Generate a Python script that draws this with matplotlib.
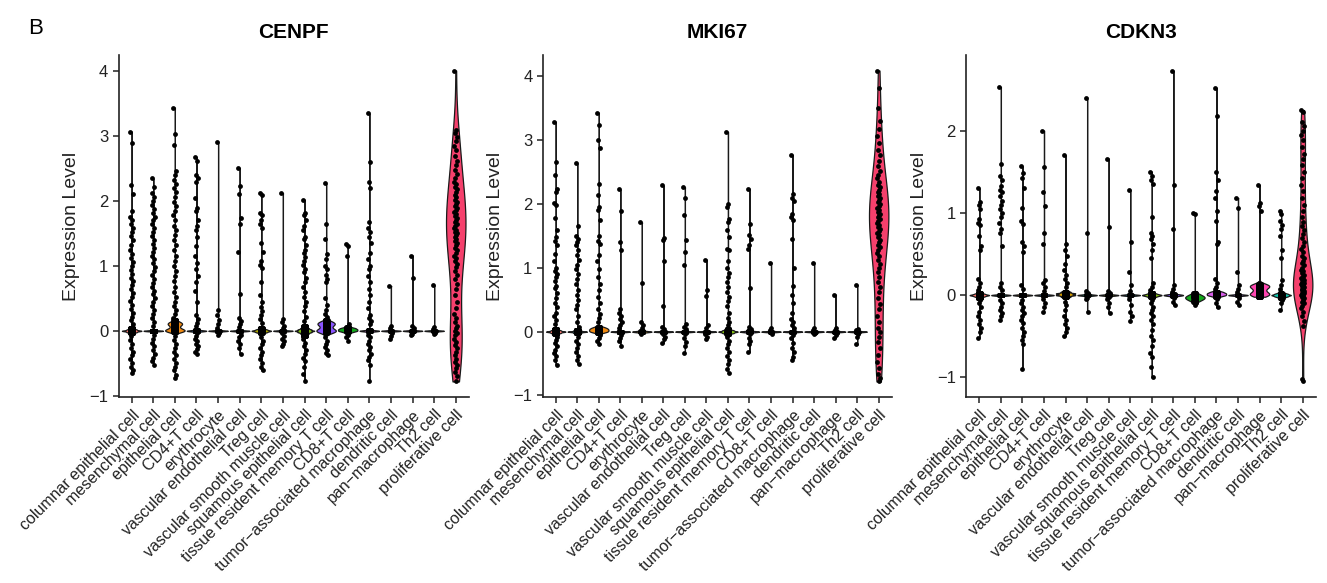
import numpy as np
import matplotlib
matplotlib.use("Agg")
import matplotlib.pyplot as plt
from matplotlib.ticker import MultipleLocator

plt.rcParams['font.family'] = ['Liberation Sans', 'DejaVu Sans']

categories = ["columnar epithelial cell", "mesenchymal cell", "epithelial cell", "CD4+T cell",
              "erythrocyte", "vascular endothelial cell", "Treg cell", "vascular smooth muscle cell",
              "squamous epithelial cell", "tissue resident memory T cell", "CD8+T cell",
              "tumor\u2212associated macrophage", "dendritic cell", "pan\u2212macrophage", "Th2 cell",
              "proliferative cell"]
genes = ["CENPF", "MKI67", "CDKN3"]
colors = ["#F8766D", "#00A5A8", "#F08A12", "#1E78E0", "#D09A00", "#00B88A", "#A9A400", "#00B0E0",
          "#80BE10", "#8A55FF", "#12A81A", "#D65CE8", "#B070FF", "#FF45B0", "#10C8B0", "#F5406C"]

# ---- CENPF: individually visible cells, plus bulk of cells near zero (value, count)
cenpf_points = [
    [3.07, 2.90, 2.24, 2.11, 1.84, 1.76, 1.70, 1.64, 1.58, 1.52, 1.46, 1.40, 1.32, 1.24, 1.18, 1.12, 1.06, 1.00,
     0.94, 0.88, 0.82, 0.76, 0.70, 0.64, 0.58, 0.52, 0.46, 0.40, 0.34, 0.28, 0.22, 0.16, 0.10, -0.08, -0.14,
     -0.20, -0.26, -0.32, -0.38, -0.44, -0.50, -0.56, -0.61, -0.65],
    [2.35, 2.22, 2.12, 2.06, 2.00, 1.94, 1.88, 1.82, 1.76, 1.70, 1.64, 1.58, 1.52, 1.46, 1.40, 1.34, 1.28, 1.22,
     1.16, 1.10, 1.04, 0.98, 0.92, 0.86, 0.80, 0.74, 0.68, 0.62, 0.56, 0.50, 0.44, 0.38, 0.32, 0.26, 0.20, 0.14,
     0.08, -0.06, -0.12, -0.18, -0.24, -0.30, -0.36, -0.42, -0.47, -0.52],
    [3.44, 3.03, 2.86, 2.46, 2.40, 2.33, 2.26, 2.20, 2.14, 2.06, 1.98, 1.92, 1.85, 1.78, 1.70, 1.62, 1.55, 1.48,
     1.40, 1.32, 1.24, 1.16, 1.08, 1.00, 0.92, 0.84, 0.76, 0.68, 0.60, 0.52, 0.45, 0.38, 0.32, 0.26, 0.20,
     -0.08, -0.14, -0.20, -0.26, -0.32, -0.38, -0.44, -0.50, -0.56, -0.61, -0.68, -0.73],
    [2.68, 2.62, 2.40, 2.35, 2.30, 2.05, 1.90, 1.85, 1.70, 1.62, 1.55, 1.45, 1.30, 1.15, 1.05, 0.95, 0.85, 0.75,
     0.62, 0.45, 0.25, 0.18, 0.12, 0.08, -0.04, -0.08, -0.12, -0.16, -0.20, -0.24, -0.28, -0.32, -0.36],
    [2.91, 0.32, 0.24, 0.16, 0.10, 0.05, -0.03, -0.06],
    [2.51, 2.23, 2.11, 1.74, 1.65, 1.22, 0.56, 0.20, 0.15, 0.10, 0.06, -0.06, -0.10, -0.15, -0.20, -0.26, -0.36],
    [2.13, 2.09, 1.82, 1.78, 1.70, 1.65, 1.58, 1.35, 1.22, 1.08, 1.02, 0.97, 0.75, 0.55, 0.45, 0.36, 0.30, 0.24,
     0.18, 0.12, -0.10, -0.15, -0.20, -0.26, -0.32, -0.38, -0.44, -0.50, -0.55, -0.61],
    [2.12, 0.18, 0.13, 0.08, 0.04, -0.04, -0.08, -0.12, -0.16, -0.20, -0.23],
    [2.02, 1.82, 1.78, 1.70, 1.62, 1.55, 1.45, 1.42, 1.32, 1.25, 1.20, 1.14, 1.08, 1.02, 0.95, 0.90, 0.82, 0.75,
     0.68, 0.60, 0.52, 0.45, 0.38, 0.30, 0.22, 0.15, -0.12, -0.18, -0.24, -0.30, -0.36, -0.42, -0.47, -0.55,
     -0.66, -0.78],
    [2.27, 1.65, 1.42, 1.18, 1.10, 1.00, 0.95, 0.86, 0.80, 0.75, 0.50, 0.40, 0.32, 0.26, 0.22, -0.10, -0.15,
     -0.20, -0.25, -0.30, -0.34, -0.38],
    [1.34, 1.30, 1.15, 0.10, -0.06, -0.10, -0.15],
    [3.35, 2.60, 2.30, 2.20, 1.68, 1.58, 1.52, 1.45, 1.35, 1.20, 1.10, 1.00, 0.95, 0.85, 0.75, 0.65, 0.55, 0.45,
     0.35, 0.25, 0.20, 0.15, 0.10, -0.06, -0.10, -0.15, -0.20, -0.25, -0.30, -0.35, -0.40, -0.45, -0.52, -0.78],
    [0.69, 0.08, 0.04, -0.04, -0.08, -0.12],
    [1.16, 0.81, 0.08, 0.05, -0.05, -0.07],
    [0.70, 0.06, 0.03, -0.03, -0.05],
    [4.01, 3.10, 3.05, 2.98, 2.92, 2.85, 2.78, 2.70, 2.62, 2.55, 2.48, 2.42, 2.36, 2.30, 2.26, 2.22, 2.18, 2.14,
     2.10, 2.06, 2.02, 1.98, 1.95, 1.92, 1.89, 1.86, 1.83, 1.80, 1.77, 1.74, 1.71, 1.68, 1.65, 1.62, 1.59, 1.56,
     1.53, 1.50, 1.47, 1.44, 1.41, 1.38, 1.35, 1.32, 1.28, 1.24, 1.20, 1.16, 1.12, 1.08, 1.03, 0.98, 0.92, 0.86,
     0.80, 0.72, 0.64, 0.55, 0.45, 0.35, 0.26, 0.19, 0.14, 0.08, 0.04, 0.00, -0.04, -0.07, -0.12, -0.17, -0.22,
     -0.27, -0.32, -0.37, -0.43, -0.48, -0.53, -0.58, -0.63, -0.70, -0.78],
]
cenpf_bulk = [
    [(-0.04, 30), (-0.02, 80), (0.0, 160), (0.02, 80), (0.04, 30)],
    [(0.0, 400)],
    [(-0.02, 40), (0.0, 120), (0.02, 70), (0.04, 35), (0.06, 25), (0.08, 40), (0.10, 65), (0.12, 65), (0.14, 35), (0.16, 15)],
    [(-0.01, 40), (0.0, 120), (0.01, 40)],
    [(0.0, 40)],
    [(0.0, 80)],
    [(-0.04, 20), (-0.02, 50), (0.0, 90), (0.02, 50), (0.04, 20)],
    [(0.0, 60)],
    [(-0.08, 15), (-0.06, 25), (-0.04, 45), (-0.02, 70), (0.0, 100), (0.02, 70), (0.04, 45), (0.06, 25), (0.08, 15)],
    [(-0.04, 20), (-0.02, 40), (0.0, 60), (0.02, 40), (0.04, 25), (0.06, 20), (0.08, 30), (0.10, 45), (0.12, 45), (0.14, 30), (0.16, 15)],
    [(-0.02, 15), (0.0, 30), (0.02, 30), (0.04, 25), (0.06, 10)],
    [(-0.01, 20), (0.0, 60), (0.01, 20)],
    [(0.0, 25)],
    [(0.0, 30)],
    [(0.0, 20)],
    [],
]

# ---- MKI67
mki67_points = [
    [3.29, 2.66, 2.45, 2.23, 2.18, 2.02, 1.98, 1.78, 1.60, 1.48, 1.42, 1.35, 1.22, 1.10, 1.00, 0.95, 0.90, 0.85,
     0.80, 0.72, 0.68, 0.60, 0.52, 0.45, 0.38, 0.30, 0.24, 0.18, 0.12, -0.08, -0.13, -0.18, -0.23, -0.28, -0.33,
     -0.38, -0.45, -0.52],
    [2.64, 1.65, 1.50, 1.45, 1.40, 1.35, 1.28, 1.20, 1.12, 1.05, 0.98, 0.90, 0.82, 0.75, 0.65, 0.58, 0.50, 0.42,
     0.35, 0.25, 0.15, 0.08, -0.08, -0.14, -0.20, -0.26, -0.32, -0.38, -0.45, -0.50],
    [3.43, 3.24, 3.00, 2.88, 2.32, 2.14, 1.95, 1.90, 1.75, 1.50, 1.42, 1.38, 1.20, 1.10, 0.98, 0.85, 0.75, 0.65,
     0.55, 0.45, 0.35, 0.28, 0.22, 0.15, -0.06, -0.10, -0.15, -0.20],
    [2.23, 1.89, 1.40, 1.28, 0.35, 0.30, 0.25, 0.20, 0.15, 0.10, 0.05, -0.05, -0.10, -0.15, -0.22],
    [1.71, 0.76, 0.15, 0.10, 0.05, -0.03],
    [2.29, 1.47, 1.44, 1.10, 0.40, 0.08, 0.04, -0.04, -0.08, -0.12, -0.18],
    [2.26, 2.10, 1.83, 1.44, 1.24, 1.04, 0.12, 0.08, 0.04, -0.04, -0.10, -0.16, -0.22, -0.34],
    [1.13, 0.66, 0.56, 0.10, 0.06, -0.04, -0.08, -0.12],
    [3.13, 2.00, 1.95, 1.76, 1.72, 1.60, 1.48, 1.30, 1.28, 1.10, 1.00, 0.92, 0.85, 0.78, 0.70, 0.62, 0.55, 0.48,
     0.40, 0.30, 0.22, 0.15, 0.10, -0.08, -0.14, -0.20, -0.26, -0.32, -0.38, -0.44, -0.50, -0.58, -0.65],
    [2.24, 1.68, 1.52, 1.45, 1.35, 1.30, 0.68, 0.08, 0.04, -0.04, -0.10, -0.15, -0.20, -0.32],
    [1.08, 0.06, 0.03, -0.03],
    [2.77, 2.15, 2.10, 2.05, 1.85, 1.80, 1.75, 1.45, 1.00, 0.72, 0.58, 0.45, 0.30, 0.20, 0.15, 0.10, 0.05, -0.05,
     -0.10, -0.18, -0.25, -0.32, -0.40, -0.45],
    [1.08, 0.05, 0.02, -0.02, -0.04],
    [0.58, 0.05, 0.02, -0.02, -0.05, -0.10],
    [0.73, 0.04, 0.02, -0.04, -0.08, -0.20],
    [4.09, 3.81, 3.50, 3.30, 3.18, 3.06, 2.95, 2.85, 2.76, 2.68, 2.60, 2.52, 2.46, 2.40, 2.35, 2.30, 2.26, 2.22,
     2.18, 2.15, 2.12, 2.09, 2.06, 2.03, 2.00, 1.97, 1.94, 1.91, 1.88, 1.85, 1.82, 1.79, 1.76, 1.73, 1.70, 1.67,
     1.64, 1.61, 1.58, 1.55, 1.52, 1.48, 1.44, 1.40, 1.36, 1.32, 1.28, 1.23, 1.18, 1.12, 1.06, 1.00, 0.93, 0.86,
     0.78, 0.70, 0.62, 0.53, 0.44, 0.35, 0.25, 0.15, 0.06, 0.00, -0.08, -0.16, -0.25, -0.37, -0.47, -0.57, -0.66,
     -0.73, -0.78],
]
mki67_bulk = [
    [(-0.04, 30), (-0.02, 80), (0.0, 160), (0.02, 80), (0.04, 30)],
    [(-0.02, 40), (0.0, 100), (0.02, 40)],
    [(-0.02, 20), (0.0, 50), (0.02, 50), (0.04, 50), (0.06, 40), (0.08, 20)],
    [(0.0, 100)],
    [(-0.01, 10), (0.0, 30), (0.01, 10)],
    [(0.0, 60)],
    [(0.0, 60)],
    [(0.0, 50)],
    [(-0.04, 30), (-0.02, 70), (0.0, 120), (0.02, 70), (0.04, 30)],
    [(-0.01, 15), (0.0, 50), (0.01, 15)],
    [(0.0, 20)],
    [(0.0, 60)],
    [(0.0, 30)],
    [(0.0, 30)],
    [(0.0, 20)],
    [],
]

# ---- CDKN3
cdkn3_points = [
    [1.30, 1.13, 1.10, 1.05, 0.92, 0.88, 0.85, 0.72, 0.60, 0.55, 0.20, 0.15, 0.10, 0.06, -0.06, -0.10, -0.15,
     -0.20, -0.25, -0.30, -0.35, -0.40, -0.45, -0.52],
    [2.53, 1.59, 1.45, 1.40, 1.33, 1.28, 1.25, 1.20, 1.15, 1.10, 1.05, 1.00, 0.95, 0.88, 0.80, 0.75, 0.60, 0.15,
     0.10, 0.06, -0.06, -0.10, -0.14, -0.18, -0.22, -0.26, -0.30],
    [1.57, 1.48, 1.42, 1.30, 1.06, 0.90, 0.87, 0.65, 0.60, 0.52, 0.12, 0.08, -0.06, -0.10, -0.14, -0.18, -0.22,
     -0.26, -0.30, -0.34, -0.40, -0.45, -0.50, -0.55, -0.60, -0.90],
    [2.00, 1.56, 1.25, 1.08, 0.75, 0.62, 0.18, 0.15, 0.10, 0.05, -0.05, -0.10, -0.15, -0.21],
    [1.70, 0.62, 0.55, 0.48, 0.38, 0.30, 0.25, 0.20, 0.15, 0.10, -0.08, -0.12, -0.18, -0.25, -0.30, -0.35, -0.40,
     -0.45, -0.50],
    [2.40, 0.75, 0.05, 0.03, -0.03, -0.05, -0.20],
    [1.66, 0.83, 0.05, 0.02, -0.02, -0.05, -0.10, -0.15, -0.22],
    [1.28, 0.65, 0.28, 0.12, 0.05, -0.05, -0.12, -0.20, -0.26, -0.32],
    [1.50, 1.45, 1.40, 1.35, 0.95, 0.75, 0.72, 0.68, 0.62, 0.55, 0.45, 0.15, 0.10, 0.06, -0.06, -0.10, -0.14,
     -0.18, -0.22, -0.26, -0.30, -0.35, -0.42, -0.50, -0.55, -0.62, -0.70, -0.75, -0.88, -1.00],
    [2.73, 1.34, 0.80, 0.12, 0.08, 0.04, -0.04, -0.08, -0.12],
    [1.00, 0.98, 0.03, -0.10, -0.12],
    [2.52, 2.18, 1.50, 1.40, 1.27, 1.18, 1.02, 0.90, 0.65, 0.62, 0.20, 0.15, 0.10, 0.08, -0.05, -0.10, -0.15],
    [1.18, 1.06, 0.28, 0.12, 0.08, 0.04, -0.04, -0.08, -0.12],
    [1.34, 1.12, 1.08, 1.02, 0.15, -0.02],
    [1.02, 0.98, 0.90, 0.85, 0.80, 0.72, 0.55, 0.45, 0.18, 0.12, 0.08, -0.06, -0.10, -0.18],
    [2.25, 2.22, 2.10, 2.05, 2.00, 1.95, 1.88, 1.80, 1.72, 1.65, 1.58, 1.50, 1.42, 1.34, 1.26, 1.18, 1.10,
     1.02, 0.95, 0.89, 0.84, 0.79, 0.74, 0.69, 0.64, 0.60, 0.56, 0.52, 0.48, 0.45, 0.42, 0.39, 0.36, 0.33, 0.31,
     0.29, 0.27, 0.25, 0.23, 0.21, 0.20, 0.19, 0.18, 0.17, 0.16, 0.15, 0.14, 0.13, 0.12, 0.11, 0.10, 0.09, 0.08,
     0.07, 0.06, 0.05, 0.04, 0.03, 0.02, 0.01, 0.00, -0.01, -0.02, -0.04, -0.06, -0.08, -0.10, -0.13, -0.16,
     -0.20, -0.25, -0.31, -0.37, -1.02, -1.05],
]
cdkn3_bulk = [
    [(-0.03, 30), (-0.015, 60), (0.0, 120), (0.015, 60), (0.03, 30)],
    [(0.0, 150)],
    [(0.0, 150)],
    [(0.0, 80)],
    [(-0.02, 20), (0.0, 40), (0.02, 40), (0.04, 20)],
    [(0.0, 30)],
    [(0.0, 40)],
    [(0.0, 30)],
    [(-0.02, 40), (0.0, 100), (0.02, 40)],
    [(-0.01, 15), (0.0, 40), (0.01, 15)],
    [(-0.08, 10), (-0.06, 20), (-0.04, 30), (-0.02, 30), (0.0, 20), (0.02, 10)],
    [(-0.02, 10), (0.0, 30), (0.02, 30), (0.04, 20)],
    [(0.0, 30)],
    [(-0.02, 15), (0.0, 30), (0.02, 30), (0.04, 20), (0.06, 15), (0.08, 20), (0.10, 30), (0.12, 30), (0.14, 15)],
    [(-0.03, 20), (-0.015, 40), (0.0, 60), (0.015, 40), (0.03, 20)],
    [],
]

gene_points = [cenpf_points, mki67_points, cdkn3_points]
gene_bulk = [cenpf_bulk, mki67_bulk, cdkn3_bulk]

W, H = 1327, 583
fig = plt.figure(figsize=(W / 100, H / 100), dpi=100)

ax_left_px = [118.7, 542.8, 966.4]
ax_w_px = [350.0, 348.8, 349.2]
ax_top_px, ax_bot_px = 55, 397
ylabel_x_px = [72, 495, 920]


def nrd0(x):
    n = len(x)
    sd = np.std(x, ddof=1)
    q75, q25 = np.percentile(x, [75, 25])
    lo = min(sd, (q75 - q25) / 1.34)
    return 0.9 * lo * n ** -0.2


for g in range(3):
    ax = fig.add_axes([ax_left_px[g] / W, 1 - ax_bot_px / H, ax_w_px[g] / W, (ax_bot_px - ax_top_px) / H])
    allv = []
    for i in range(len(categories)):
        parts_list = [np.asarray(gene_points[g][i], float)]
        for v, c in gene_bulk[g][i]:
            parts_list.append(np.full(c, v))
        data = np.concatenate(parts_list)
        allv.append(data)
        bw = max(nrd0(data), 0.007)
        vp = ax.violinplot([data], positions=[i], widths=0.9, showextrema=False, points=2500,
                           bw_method=lambda k, bw=bw: bw / np.std(k.dataset, ddof=1))
        for body in vp['bodies']:
            body.set_facecolor(colors[i])
            body.set_edgecolor('#1a1a1a')
            body.set_linewidth(0.9)
            body.set_alpha(1)
            body.set_zorder(1)
        jit = ((np.arange(len(data)) * 0.618034) % 1 - 0.5) * 0.14
        ax.scatter(i + jit, data, s=12, c='black', linewidths=0, zorder=3)
    allcat = np.concatenate(allv)
    lo, hi = allcat.min(), allcat.max()
    rng = hi - lo
    ax.set_ylim(lo - 0.05 * rng, hi + 0.05 * rng)
    ax.set_xlim(-0.6, len(categories) - 0.4)
    ax.yaxis.set_major_locator(MultipleLocator(1))
    ax.set_xticks(range(len(categories)))
    ax.set_xticklabels(categories, rotation=45, ha='right', va='top', rotation_mode='anchor', fontsize=11.5)
    ax.tick_params(axis='both', length=4, width=1.1, colors='#222222', labelcolor='#222222')
    ax.tick_params(axis='y', labelsize=12)
    for s in ['top', 'right']:
        ax.spines[s].set_visible(False)
    for s in ['left', 'bottom']:
        ax.spines[s].set_linewidth(1.2)
        ax.spines[s].set_color('#222222')
    cx = (ax_left_px[g] + ax_w_px[g] / 2) / W
    fig.text(cx, 1 - 32 / H, genes[g], ha='center', va='center', fontsize=15, fontweight='bold')
    fig.text(ylabel_x_px[g] / W, 1 - ((ax_top_px + ax_bot_px) / 2) / H, "Expression Level",
             rotation=90, ha='center', va='center', fontsize=14, color='#222222')

fig.text(28 / W, 1 - 28 / H, "B", ha='left', va='center', fontsize=16)

fig.savefig("out.png", dpi=100)
